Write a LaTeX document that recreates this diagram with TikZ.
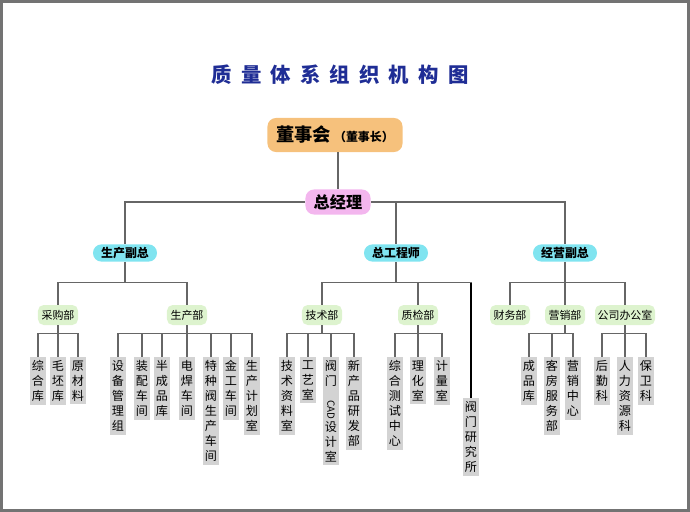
\documentclass[tikz,border=0pt]{standalone}
\usepackage{fontspec}
\setmainfont{Noto Sans CJK SC}
\usepackage{tikz}

\definecolor{boardorange}{HTML}{F6C17C}
\definecolor{gmpink}{HTML}{F3B6EE}
\definecolor{vpcyan}{HTML}{80E4F0}
\definecolor{deptgreen}{HTML}{DDF3CE}
\definecolor{leafgray}{HTML}{D3D3D3}
\definecolor{titleblue}{HTML}{1F2D95}

\begin{document}
\begin{tikzpicture}[x=0.025cm, y=-0.025cm,
    line/.style={draw=black!60, line width=0.8pt},
    vp/.style={fill=vpcyan, rounded corners=6pt, minimum width=1.6cm, minimum height=0.43cm,
        inner sep=1pt, font=\bfseries\fontsize{8.5}{10}\selectfont},
    dept/.style={fill=deptgreen, rounded corners=4pt, minimum width=1cm, minimum height=0.5cm,
        inner sep=1pt, font=\fontsize{7.8}{9}\selectfont},
    leaf/.style={fill=leafgray, anchor=north, align=center, inner xsep=1.2pt, inner ysep=2.3pt,
        minimum width=0.34cm, font=\fontsize{8.6}{10.7}\selectfont}]

    \useasboundingbox (0,0) rectangle (690,512);
    \draw[black!55, line width=2pt] (1.5,1.5) rectangle (688.5,510.5);

    % title
    \node[text=titleblue, font=\bfseries\fontsize{14.5}{16}\selectfont] (title) at (340,75)
        {质\hspace{0.45em}量\hspace{0.45em}体\hspace{0.45em}系\hspace{0.45em}组\hspace{0.45em}织\hspace{0.45em}机\hspace{0.45em}构\hspace{0.45em}图};

    % top levels
    \node[fill=boardorange, rounded corners=6pt, minimum width=3.375cm, minimum height=0.85cm] (dsh) at (335,135)
        {\bfseries\fontsize{13}{15}\selectfont 董事会\,{\fontsize{8.5}{10}\selectfont （董事长）}};
    \node[fill=gmpink, rounded corners=6pt, minimum width=1.625cm, minimum height=0.625cm,
        font=\bfseries\fontsize{11.5}{13}\selectfont] (zjl) at (338,202) {总经理};

    \node[vp] (scfz) at (125,253) {生产副总};
    \node[vp] (zgs) at (396,253) {总工程师};
    \node[vp] (jyfz) at (565,253) {经营副总};

    \draw[line] (zjl.north |- dsh.south) -- (zjl.north);
    \draw[line] (zjl.west) -| (scfz.north);
    \draw[line] (zjl.east) -| (jyfz.north);
    \draw[line] (zgs.north) -- (zgs.north |- zjl.east);

    % departments
    \node[dept] (cgb) at (58,315) {采购部};
    \node[dept] (scb) at (187,315) {生产部};
    \node[dept] (jsb) at (322,315) {技术部};
    \node[dept] (zjb) at (418,315) {质检部};
    \node[dept] (cwb) at (510,315) {财务部};
    \node[dept] (yxb) at (565,315) {营销部};
    \node[dept, minimum width=1.5cm] (gsb) at (625,315) {公司办公室};
    \node[leaf] (fmyjs) at (471,398) {阀\\门\\研\\究\\所};

    \draw[line] (scfz.south) -- ++(0,21) -| (cgb.north);
    \draw[line] (scfz.south) ++(0,21) -| (scb.north);
    \draw[line] (zgs.south) -- ++(0,21) -| (jsb.north);
    \draw[line] (zgs.south) ++(0,21) -| (zjb.north);
    \draw[line] (zgs.south) ++(0,21) -| (fmyjs.north);
    \draw[black, line width=1pt] (fmyjs.north) ++(0,-115) -- (fmyjs.north);
    \draw[line] (jyfz.south) -- ++(0,21) -| (cwb.north);
    \draw[line] (jyfz.south) ++(0,21) -| (gsb.north);
    \draw[line] (jyfz.south) ++(0,21) -- (yxb.north);

    % sections
    \foreach \x/\t [count=\i] in {38/{综\\合\\库}, 58/{毛\\坯\\库}, 78/{原\\材\\料}} {
        \node[leaf] (cg\i) at (\x,357) {\t};
        \draw[line] (cgb.south) -- ++(0,8) -| (cg\i.north);
    }
    \foreach \x/\t [count=\i] in {118/{设\\备\\管\\理\\组}, 142/{装\\配\\车\\间}, 162/{半\\成\\品\\库},
        187/{电\\焊\\车\\间}, 211/{特\\种\\阀\\生\\产\\车\\间}, 231/{金\\工\\车\\间}, 252/{生\\产\\计\\划\\室}} {
        \node[leaf] (sc\i) at (\x,357) {\t};
        \draw[line] (scb.south) -- ++(0,8) -| (sc\i.north);
    }
    \foreach \x/\t [count=\i] in {287/{技\\术\\资\\料\\室}, 308/{工\\艺\\室},
        331/{阀\\门\\\rotatebox{-90}{\fontsize{7}{7}\selectfont CAD}\\设\\计\\室}, 354/{新\\产\\品\\研\\发\\部}} {
        \node[leaf] (js\i) at (\x,357) {\t};
        \draw[line] (jsb.south) -- ++(0,8) -| (js\i.north);
    }
    \foreach \x/\t [count=\i] in {395/{综\\合\\测\\试\\中\\心}, 418/{理\\化\\室}, 442/{计\\量\\室}} {
        \node[leaf] (zj\i) at (\x,357) {\t};
        \draw[line] (zjb.south) -- ++(0,8) -| (zj\i.north);
    }
    \foreach \x/\t [count=\i] in {529/{成\\品\\库}, 552/{客\\房\\服\\务\\部}, 573/{营\\销\\中\\心}} {
        \node[leaf] (yx\i) at (\x,357) {\t};
        \draw[line] (yxb.south) -- ++(0,8) -| (yx\i.north);
    }
    \foreach \x/\t [count=\i] in {602/{后\\勤\\科}, 625/{人\\力\\资\\源\\科}, 646/{保\\卫\\科}} {
        \node[leaf] (gs\i) at (\x,357) {\t};
        \draw[line] (gsb.south) -- ++(0,8) -| (gs\i.north);
    }
\end{tikzpicture}
\end{document}
